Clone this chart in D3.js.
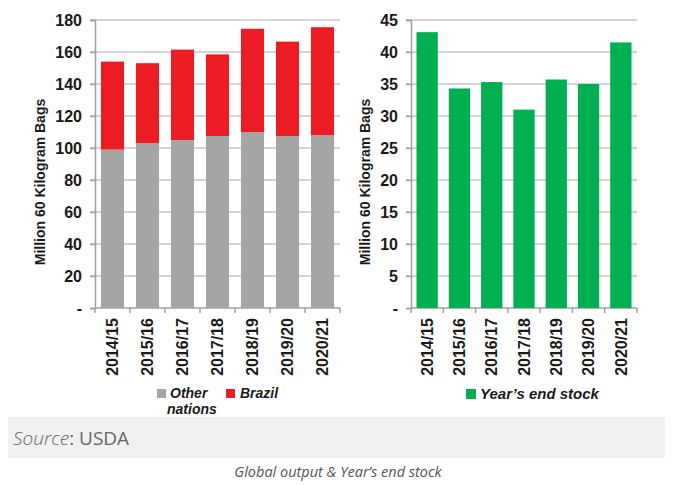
<!DOCTYPE html>
<html>
<head>
<meta charset="utf-8">
<script src="https://cdn.jsdelivr.net/npm/d3@7"></script>
<style>
  body { margin: 0; background: #fff; }
  .tick-lbl { font-family: "Liberation Sans", Arial, sans-serif; font-weight: bold; font-size: 16px; fill: #1a1a1a; }
  .ytitle { font-family: "Liberation Sans", Arial, sans-serif; font-weight: bold; font-size: 14px; fill: #1a1a1a; }
  .leg { font-family: "Liberation Sans", Arial, sans-serif; font-weight: bold; font-style: italic; font-size: 14px; fill: #1a1a1a; }
</style>
</head>
<body>
<div id="graf"></div>
<script>
// Datos
const temporadas = ["2014/15", "2015/16", "2016/17", "2017/18", "2018/19", "2019/20", "2020/21"]
const otrasNaciones = [99, 103, 105, 107.5, 110, 107.5, 108]
const brasil = [55, 50, 56.5, 51, 64.5, 59, 67.5]
const stockFinal = [43.1, 34.3, 35.3, 31.0, 35.7, 35.0, 41.5]
const ticksIzq = [0, 20, 40, 60, 80, 100, 120, 140, 160, 180]
const ticksDer = [0, 5, 10, 15, 20, 25, 30, 35, 40, 45]

const colores = { otras: "#a5a5a5", brasil: "#ec1c24", stock: "#00b050" }

const anchoTotal = 676
const altoTotal = 485

const svg = d3.select("#graf")
  .append("svg")
  .attr("width", anchoTotal)
  .attr("height", altoTotal)

// Dibuja un panel (ejes + rejilla), devuelve escaladores
const panel = (x0, x1, maxY, ticks, tituloX) => {
  const top = 20
  const bottom = 308
  const x = d3.scaleBand().domain(temporadas).range([x0, x1]).paddingInner(0.34).paddingOuter(0.17)
  const y = d3.scaleLinear().domain([0, maxY]).range([bottom, top])

  const g = svg.append("g")

  // rejilla
  g.selectAll("line.grid")
    .data(ticks.filter((d) => d > 0))
    .enter()
    .append("line")
    .attr("x1", x0 - 5)
    .attr("x2", x1)
    .attr("y1", (d) => y(d))
    .attr("y2", (d) => y(d))
    .attr("stroke", "#c6c6c6")
    .attr("stroke-width", 1.5)

  // eje y
  const yAxis = d3.axisLeft(y).tickValues(ticks).tickSize(5).tickPadding(8)
    .tickFormat((d) => (d === 0 ? "-" : d))
  const yg = g.append("g").attr("transform", `translate(${x0},0)`).call(yAxis)
  yg.select(".domain").attr("stroke", "#a0a0a0").attr("stroke-width", 1.5)
  yg.selectAll(".tick line").attr("stroke", "#a0a0a0").attr("stroke-width", 1.5)
  yg.selectAll(".tick text").attr("class", "tick-lbl").attr("fill", null)

  // eje x
  const bordes = d3.range(temporadas.length + 1).map((i) => x0 + (i * (x1 - x0)) / temporadas.length)
  g.append("line")
    .attr("x1", x0).attr("x2", x1)
    .attr("y1", bottom).attr("y2", bottom)
    .attr("stroke", "#a0a0a0").attr("stroke-width", 1.5)
  g.selectAll("line.xt")
    .data(bordes)
    .enter()
    .append("line")
    .attr("x1", (d) => d).attr("x2", (d) => d)
    .attr("y1", bottom).attr("y2", bottom + 5)
    .attr("stroke", "#a0a0a0").attr("stroke-width", 1.5)

  g.selectAll("text.xl")
    .data(temporadas)
    .enter()
    .append("text")
    .attr("class", "tick-lbl")
    .attr("text-anchor", "end")
    .attr("dy", "0.36em")
    .attr("transform", (d) => `translate(${x(d) + x.bandwidth() / 2}, ${bottom + 10}) rotate(-90)`)
    .text((d) => d)

  g.append("text")
    .attr("class", "ytitle")
    .attr("text-anchor", "middle")
    .attr("transform", `translate(${tituloX}, 182) rotate(-90)`)
    .text("Million 60 Kilogram Bags")

  return { x, y, g }
}

// Panel izquierdo: producción
const izq = panel(95, 340, 180, ticksIzq, 45)
const apilado = temporadas.map((t, i) => ({ t, otras: otrasNaciones[i], brasil: brasil[i] }))
const series = d3.stack().keys(["otras", "brasil"])(apilado)

izq.g.selectAll("g.serie")
  .data(series)
  .enter()
  .append("g")
  .attr("fill", (s) => colores[s.key])
  .selectAll("rect")
  .data((s) => s)
  .enter()
  .append("rect")
  .attr("x", (d) => izq.x(d.data.t))
  .attr("width", izq.x.bandwidth())
  .attr("y", (d) => izq.y(d[1]))
  .attr("height", (d) => izq.y(d[0]) - izq.y(d[1]))

// Panel derecho: stock final
const der = panel(411, 637, 45, ticksDer, 370)
der.g.selectAll("rect.stock")
  .data(stockFinal)
  .enter()
  .append("rect")
  .attr("fill", colores.stock)
  .attr("x", (d, i) => der.x(temporadas[i]))
  .attr("width", der.x.bandwidth())
  .attr("y", (d) => der.y(d))
  .attr("height", (d) => der.y(0) - der.y(d))

// Leyendas
const leg = svg.append("g")
leg.append("rect").attr("x", 157).attr("y", 389).attr("width", 9).attr("height", 9).attr("fill", colores.otras)
leg.append("text").attr("class", "leg").attr("x", 170).attr("y", 398).text("Other")
leg.append("text").attr("class", "leg").attr("x", 167).attr("y", 414).text("nations")
leg.append("rect").attr("x", 226).attr("y", 389).attr("width", 9).attr("height", 9).attr("fill", colores.brasil)
leg.append("text").attr("class", "leg").attr("x", 240).attr("y", 398).text("Brazil")
leg.append("rect").attr("x", 466).attr("y", 389).attr("width", 10).attr("height", 10).attr("fill", colores.stock)
leg.append("text").attr("class", "leg").attr("x", 480).attr("y", 399).style("font-size", "15px").text("Year’s end stock")

// Pie: fuente y título
svg.append("rect").attr("x", 8).attr("y", 417).attr("width", 657).attr("height", 41).attr("fill", "#f1f1f1")
const fuente = svg.append("text")
  .attr("x", 13).attr("y", 445)
  .style("font-family", "'Open Sans', sans-serif")
  .style("font-size", "19px")
  .attr("fill", "#666")
fuente.append("tspan").style("font-style", "italic").style("font-weight", 300).text("Source")
fuente.append("tspan").text(": USDA")

svg.append("text")
  .attr("x", 338).attr("y", 477)
  .attr("text-anchor", "middle")
  .style("font-family", "'Open Sans', sans-serif")
  .style("font-size", "14.5px")
  .style("font-style", "italic")
  .attr("fill", "#555")
  .text("Global output & Year’s end stock")
</script>
</body>
</html>
